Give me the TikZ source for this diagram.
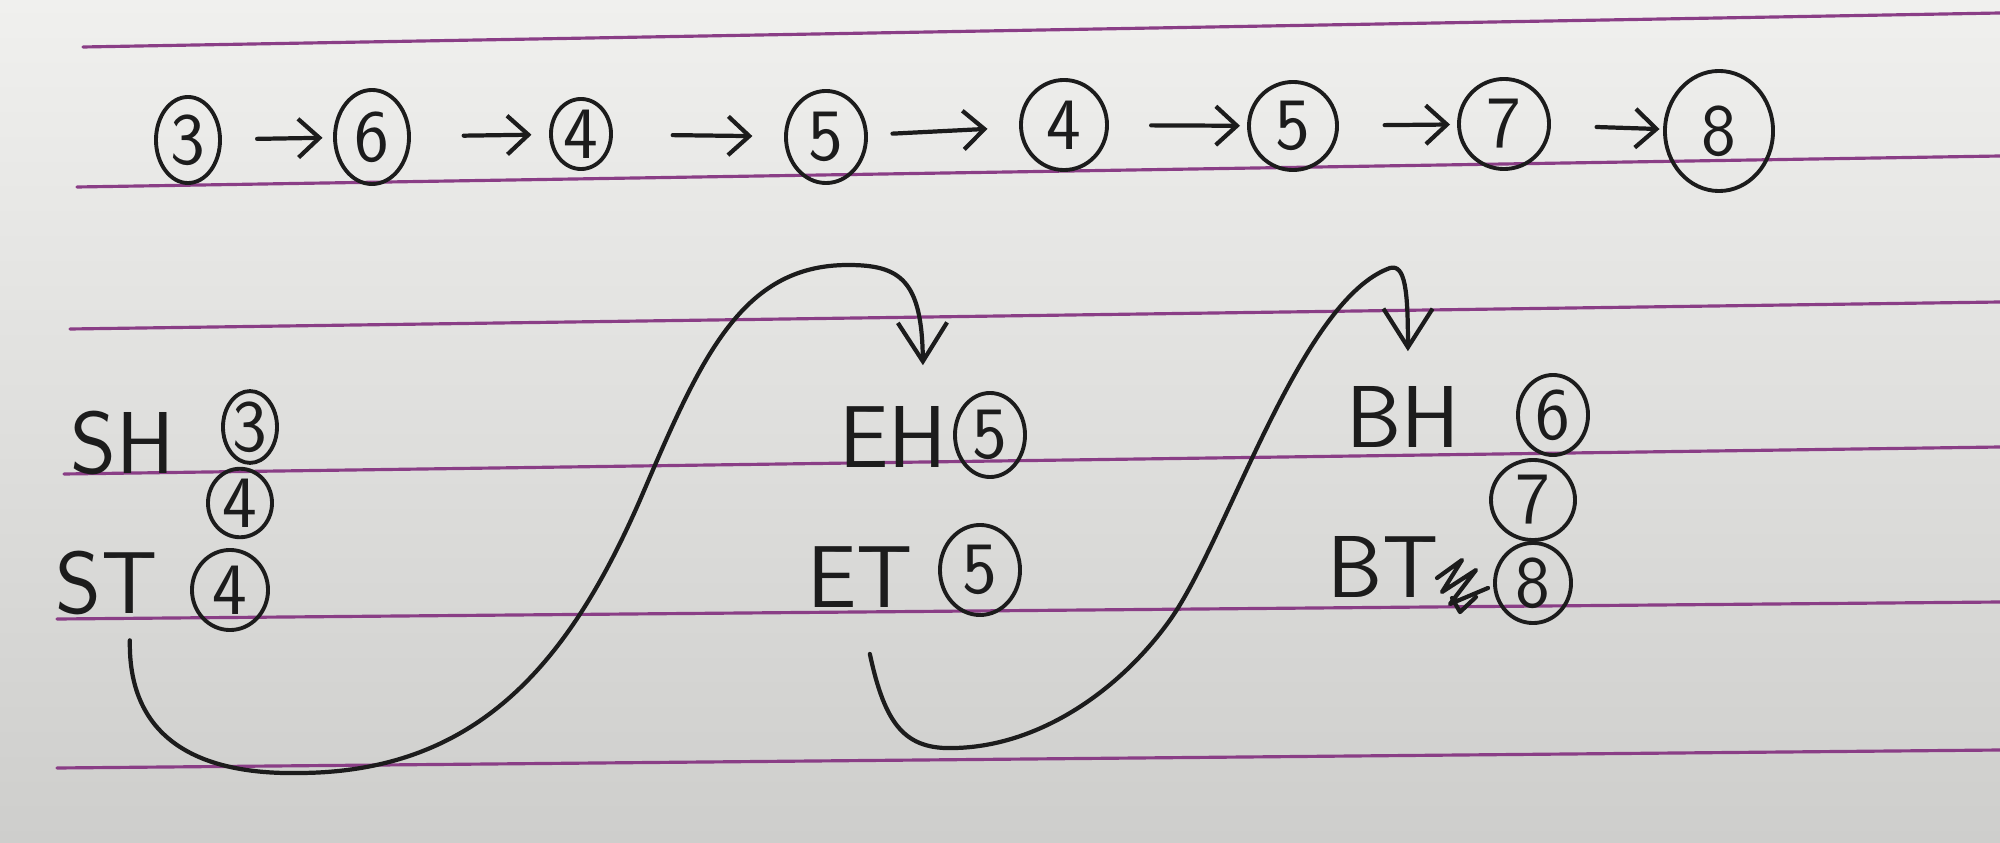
\documentclass[tikz,border=0pt]{standalone}
\usepackage{fontspec}
\usepackage{tikz}
\usetikzlibrary{arrows.meta,shapes.geometric}
\definecolor{ink}{RGB}{28,28,28}
\definecolor{ruling}{RGB}{138,62,134}
\definecolor{papertop}{RGB}{240,240,238}
\definecolor{paperbot}{RGB}{206,206,204}

\begin{document}
\begin{tikzpicture}[x=0.01cm,y=-0.01cm,line join=round,line cap=round,
  pen/.style={ink,line width=1.2pt},
  rule/.style={ruling,line width=0.9pt},
  num/.style={ellipse,draw=ink,line width=1.1pt,inner sep=0pt,text=ink,font=\sffamily\fontsize{21}{24}\selectfont},
  ov/.style 2 args={minimum width=#1cm,minimum height=#2cm},
  lbl/.style={text=ink,font=\sffamily\fontsize{25}{28}\selectfont},
  arr/.style={pen,-{Straight Barb[length=6pt,width=11pt]},shorten <=12pt,shorten >=2pt},
  link/.style={pen,-{Straight Barb[length=11pt,width=14pt]}}]
  \shade[top color=papertop,bottom color=paperbot] (0,0) rectangle (2000,843);
  \useasboundingbox (0,0) rectangle (2000,843);
  \draw[rule] (83,47) -- (2000,13);
  \draw[rule] (77,187) -- (2000,156);
  \draw[rule] (70,329) -- (2000,302);
  \draw[rule] (64,474) -- (2000,447);
  \draw[rule] (57,619) -- (2000,602);
  \draw[rule] (57,768) -- (2000,750);
  \node[num,ov={0.64}{0.86}] (t1) at (188,140) {3};
  \node[num,ov={0.74}{0.94}] (t2) at (372,137) {6};
  \node[num,ov={0.60}{0.70}] (t3) at (581,134) {4};
  \node[num,ov={0.80}{0.92}] (t4) at (826,137) {5};
  \node[num,ov={0.86}{0.90}] (t5) at (1064,125) {4};
  \node[num,ov={0.88}{0.88}] (t6) at (1293,126) {5};
  \node[num,ov={0.90}{0.90}] (t7) at (1504,124) {7};
  \node[num,ov={1.08}{1.20}] (t8) at (1719,131) {8};
  \draw[arr,shorten <=10pt,shorten >=3pt] (t1) -- (t2);
  \draw[arr,shorten <=15pt,shorten >=5pt] (t2) -- (t3);
  \draw[arr,shorten <=17pt,shorten >=9pt] (t3) -- (t4);
  \draw[arr,shorten <=7pt,shorten >=9pt] (t4) -- (t5);
  \draw[arr] (t5) -- (t6);
  \draw[arr,shorten <=13pt] (t6) -- (t7);
  \draw[arr,shorten <=13pt,shorten >=1pt] (t7) -- (t8);
  \node[lbl] (SH) at (123,443) {SH};
  \node[lbl] (ST) at (107,583) {ST};
  \node[lbl] (EH) at (893,437) {EH};
  \node[lbl] (ET) at (860,577) {ET};
  \node[lbl] (BH) at (1403,417) {BH};
  \node[lbl] (BT) at (1383,567) {BT};
  \node[num,ov={0.54}{0.64}] (sh3) at (250,427) {3};
  \node[num,ov={0.64}{0.66}] (sm4) at (240,503) {4};
  \node[num,ov={0.76}{0.80}] (st4) at (230,590) {4};
  \node[num,ov={0.70}{0.84}] (eh5) at (990,435) {5};
  \node[num,ov={0.80}{0.90}] (et5) at (980,570) {5};
  \node[num,ov={0.70}{0.80}] (bh6) at (1553,415) {6};
  \node[num,ov={0.84}{0.80}] (bm7) at (1533,500) {7};
  \node[num,ov={0.76}{0.80}] (bt8) at (1533,583) {8};
  \draw[pen] (1437,578) -- (1462,560) -- (1442,592) -- (1476,570) -- (1450,604) -- (1488,588);
  \draw[pen] (1452,598) -- (1460,612) -- (1476,597);
  \draw[link] ([xshift=6.5pt,yshift=-3.7pt]ST.south) .. controls (128,740) and (200,775) .. (300,773)
    .. controls (480,772) and (570,660) .. (640,500)
    .. controls (700,360) and (740,265) .. (848,265)
    .. controls (900,265) and (922,280) .. ([xshift=8.5pt,yshift=8.2pt]EH.north);
  \draw[link] ([xshift=2.8pt,yshift=-9.7pt]ET.south) .. controls (885,725) and (905,750) .. (955,748)
    .. controls (1040,746) and (1120,690) .. (1170,620)
    .. controls (1227,540) and (1300,300) .. (1390,268)
    .. controls (1405,264) and (1408,290) .. ([xshift=1.4pt,yshift=6.5pt]BH.north);
\end{tikzpicture}
\end{document}
